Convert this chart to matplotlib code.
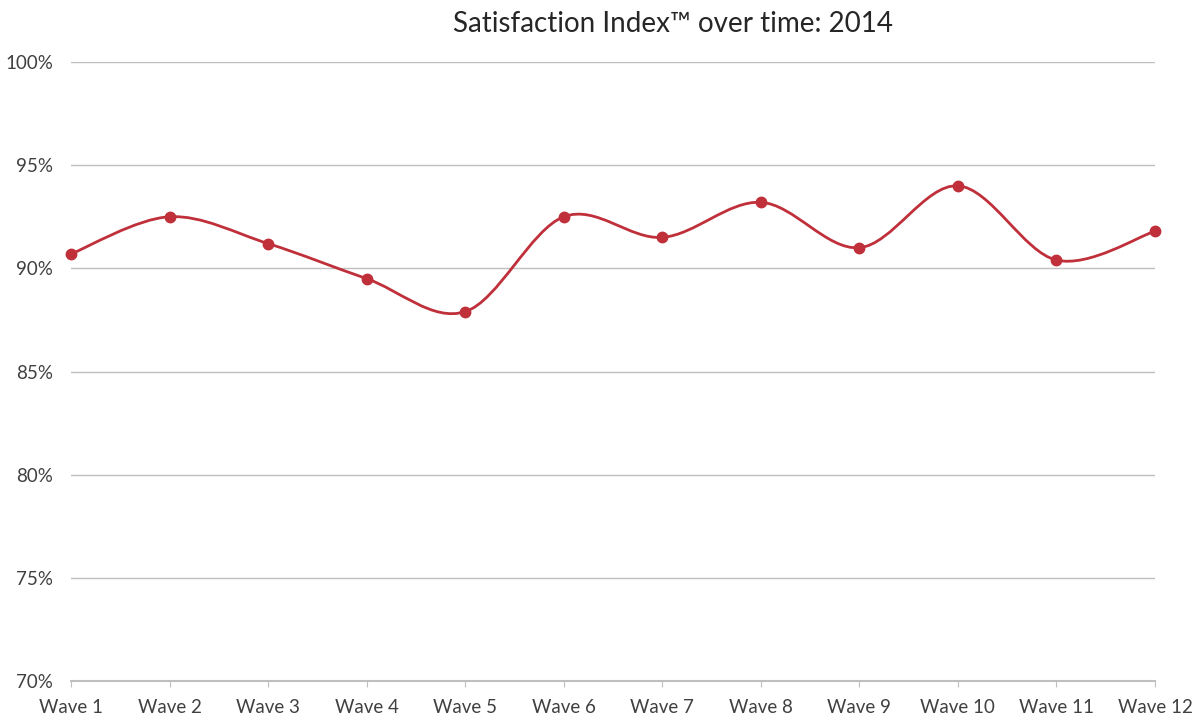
import numpy as np
import matplotlib.pyplot as plt
from matplotlib.path import Path
from matplotlib.patches import PathPatch
from matplotlib.ticker import FuncFormatter

plt.rcParams['font.family'] = ['Lato', 'DejaVu Sans']

waves = ['Wave 1', 'Wave 2', 'Wave 3', 'Wave 4', 'Wave 5', 'Wave 6',
         'Wave 7', 'Wave 8', 'Wave 9', 'Wave 10', 'Wave 11', 'Wave 12']
index_values = [90.7, 92.5, 91.2, 89.5, 87.9, 92.5, 91.5, 93.2, 91.0, 94.0, 90.4, 91.8]
y_ticks = [70, 75, 80, 85, 90, 95, 100]

red = '#C0303A'

fig = plt.figure(figsize=(12.04, 7.17), dpi=100)
ax = fig.add_axes([71 / 1204, 1 - 681 / 717, (1155 - 71) / 1204, (681 - 62) / 717])

x = np.arange(len(waves))
y = np.array(index_values)

# smoothed line (catmull-rom style bezier like excel)
verts = [(x[0], y[0])]
codes = [Path.MOVETO]
for i in range(len(x) - 1):
    p0 = np.array([x[max(i - 1, 0)], y[max(i - 1, 0)]])
    p1 = np.array([x[i], y[i]])
    p2 = np.array([x[i + 1], y[i + 1]])
    p3 = np.array([x[min(i + 2, len(x) - 1)], y[min(i + 2, len(x) - 1)]])
    c1 = p1 + (p2 - p0) / 6
    c2 = p2 - (p3 - p1) / 6
    verts += [tuple(c1), tuple(c2), tuple(p2)]
    codes += [Path.CURVE4] * 3
ax.add_patch(PathPatch(Path(verts, codes), fill=False, edgecolor=red, lw=2, zorder=3, clip_on=False))
ax.plot(x, y, 'o', color=red, ms=7.5, zorder=4, clip_on=False)

ax.set_xlim(0, len(waves) - 1)
ax.set_ylim(70, 100)
ax.set_yticks(y_ticks)
ax.yaxis.set_major_formatter(FuncFormatter(lambda v, p: '%d%%' % v))
ax.set_xticks(x)
ax.set_xticklabels(waves)
ax.yaxis.grid(True, color='#BFBFBF', lw=1)
ax.set_axisbelow(True)
for s in ['top', 'right', 'left']:
    ax.spines[s].set_visible(False)
ax.spines['bottom'].set_color('#BFBFBF')
ax.spines['bottom'].set_linewidth(1.5)
ax.tick_params(axis='y', length=0, labelsize=13.5, colors='#404040', pad=13)
ax.tick_params(axis='x', length=4, color='#BFBFBF', labelsize=13.5, labelcolor='#404040', pad=9)

fig.text(673 / 1204, 1 - 24 / 717, 'Satisfaction Index\u2122 over time: 2014',
         ha='center', va='center', fontsize=20, color='#262626')

plt.savefig('out.png', dpi=100)
